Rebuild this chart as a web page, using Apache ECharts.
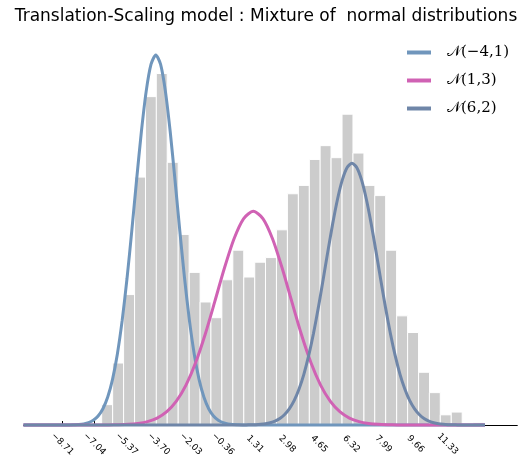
<!DOCTYPE html>
<html>
<head>
<meta charset="utf-8">
<script src="https://cdn.jsdelivr.net/npm/echarts@6/dist/echarts.min.js"></script>
<style>
  html, body { margin: 0; padding: 0; background: #fff; }
  #main { width: 532px; height: 456px; }
</style>
</head>
<body>
<div id="main"></div>
<script>
// histogram: bin centres and heights (density)
let binCenters = [-6.38, -5.81, -5.24, -4.67, -4.10, -3.54, -2.97, -2.40, -1.83, -1.26,
  -0.70, -0.13, 0.44, 1.01, 1.58, 2.14, 2.71, 3.28, 3.85, 4.42,
  4.98, 5.55, 6.12, 6.69, 7.26, 7.82, 8.39, 8.96, 9.53, 10.10,
  10.66, 11.23, 11.80, 12.37, 12.94];
let binHeights = [0.022, 0.067, 0.141, 0.268, 0.355, 0.380, 0.284, 0.206, 0.165, 0.133,
  0.116, 0.157, 0.189, 0.160, 0.176, 0.181, 0.211, 0.250, 0.259, 0.287,
  0.302, 0.289, 0.336, 0.294, 0.259, 0.248, 0.189, 0.118, 0.100, 0.057,
  0.035, 0.011, 0.014, 0, 0.0025];
let binWidth = 0.568;

let tickValues = [-8.71, -7.04, -5.37, -3.70, -2.03, -0.36, 1.31, 2.98, 4.65, 6.32, 7.99, 9.66, 11.33];

// fitted curves
let n1X = [-10.73, -8.35, -8.10, -7.85, -7.60, -7.35, -7.10, -6.85, -6.60, -6.35, -6.10,
  -5.85, -5.60, -5.35, -5.10, -4.85, -4.60, -4.35, -4.10, -3.85,
  -3.60, -3.35, -3.10, -2.85, -2.60, -2.35, -2.10, -1.85, -1.60, -1.35,
  -1.10, -0.85, -0.60, -0.35, -0.10, 0.15, 0.40, 0.65, 13.27];
let n1Y = [0, 0, 0.0002, 0.0005, 0.0012, 0.0025, 0.0051, 0.0097, 0.0176, 0.0302, 0.0494,
  0.0766, 0.1128, 0.1578, 0.2097, 0.2646, 0.3170, 0.3607, 0.3898, 0.400,
  0.3898, 0.3607, 0.3170, 0.2646, 0.2097, 0.1578, 0.1128, 0.0766, 0.0494, 0.0302,
  0.0176, 0.0097, 0.0051, 0.0025, 0.0012, 0.0005, 0.0002, 0, 0];

let n2X = [-10.73, -6.78, -6.28, -5.78, -5.28, -4.78, -4.28, -3.78, -3.28, -2.78, -2.28,
  -1.78, -1.28, -0.78, -0.28, 0.22, 0.72, 1.22, 1.72, 2.22, 2.72,
  3.22, 3.72, 4.22, 4.72, 5.22, 5.72, 6.22, 6.72, 7.22, 7.72,
  8.22, 8.72, 9.22, 13.27];
let n2Y = [0, 0, 0.0001, 0.0003, 0.0007, 0.0017, 0.0037, 0.0075, 0.0144, 0.0258, 0.0431,
  0.0673, 0.0981, 0.1336, 0.1697, 0.2014, 0.2232, 0.231, 0.2232, 0.2014, 0.1697,
  0.1336, 0.0981, 0.0673, 0.0431, 0.0258, 0.0144, 0.0075, 0.0037, 0.0017, 0.0007,
  0.0003, 0.0001, 0, 0];

let n3X = [-10.73, 0.60, 0.85, 1.10, 1.35, 1.60, 1.85, 2.10, 2.35, 2.60, 2.85,
  3.10, 3.35, 3.60, 3.85, 4.10, 4.35, 4.60, 4.85, 5.10, 5.35,
  5.60, 5.85, 6.10, 6.35, 6.60, 6.85, 7.10, 7.35, 7.60, 7.85,
  8.10, 8.35, 8.60, 8.85, 9.10, 9.35, 9.60, 9.85, 10.10, 10.35,
  10.60, 10.85, 11.10, 11.35, 11.60, 11.85, 12.10, 13.27];
let n3Y = [0, 0, 0.0001, 0.0002, 0.0004, 0.0008, 0.0014, 0.0025, 0.0042, 0.0071, 0.0114,
  0.0177, 0.0266, 0.0389, 0.0548, 0.0749, 0.099, 0.1266, 0.1568, 0.1878, 0.2177,
  0.2441, 0.265, 0.2784, 0.283, 0.2784, 0.265, 0.2441, 0.2177, 0.1878, 0.1568,
  0.1266, 0.099, 0.0749, 0.0548, 0.0389, 0.0266, 0.0177, 0.0114, 0.0071, 0.0042,
  0.0025, 0.0014, 0.0008, 0.0004, 0.0002, 0.0001, 0, 0];

let curveNames = ['𝒩(−4,1)', '𝒩(1,3)', '𝒩(6,2)'];
let curveColors = ['#7096bc', '#d062b4', '#6f86a8'];

function zip(xs, ys) {
  return xs.map((x, i) => [x, ys[i]]);
}

let chart = echarts.init(document.getElementById('main'));

let curves = [[n1X, n1Y], [n2X, n2Y], [n3X, n3Y]].map((c, i) => ({
  name: curveNames[i],
  type: 'line',
  data: zip(c[0], c[1]),
  smooth: 0.25,
  showSymbol: false,
  clip: false,
  color: curveColors[i],
  lineStyle: { width: 3, color: curveColors[i] },
  z: 3
}));

let option = {
  animation: false,
  title: {
    text: 'Translation-Scaling model : Mixture of  normal distributions',
    left: 'center',
    top: 3,
    textStyle: { fontFamily: 'DejaVu Sans', fontSize: 17, fontWeight: 'normal', color: '#000' }
  },
  legend: {
    orient: 'vertical',
    left: 402,
    top: 40,
    icon: 'rect',
    itemWidth: 24,
    itemHeight: 4,
    itemGap: 13,
    textStyle: { fontFamily: 'DejaVu Serif', fontSize: 15, color: '#000', padding: [0, 0, 0, 11] },
    data: curveNames
  },
  grid: { left: 23.5, right: 14.7, top: 36.5, bottom: 31, outerBoundsMode: 'none' },
  xAxis: {
    type: 'value',
    min: -10.73,
    max: 14.95,
    splitLine: { show: false },
    axisLine: { lineStyle: { color: '#000', width: 1 } },
    axisTick: { inside: true, length: 4, customValues: tickValues, lineStyle: { color: '#000' } },
    axisLabel: {
      customValues: tickValues,
      rotate: -45,
      align: 'center',
      verticalAlign: 'middle',
      margin: 19,
      fontFamily: 'DejaVu Sans',
      fontSize: 9,
      color: '#000',
      formatter: v => v.toFixed(2).replace('-', '−')
    }
  },
  yAxis: { type: 'value', min: 0, max: 0.42, show: false },
  series: [{
    name: 'hist',
    type: 'custom',
    data: zip(binCenters, binHeights),
    encode: { x: 0, y: 1 },
    z: 1,
    renderItem: function (params, api) {
      let c = api.value(0), h = api.value(1);
      if (!h) return null;
      let p0 = api.coord([c - binWidth / 2, h]);
      let p1 = api.coord([c + binWidth / 2, 0]);
      return {
        type: 'rect',
        shape: { x: p0[0], y: p0[1], width: p1[0] - p0[0], height: p1[1] - p0[1] },
        style: { fill: '#cccccc', stroke: '#fff', lineWidth: 1 }
      };
    }
  }].concat(curves)
};
chart.setOption(option);
</script>
</body>
</html>
